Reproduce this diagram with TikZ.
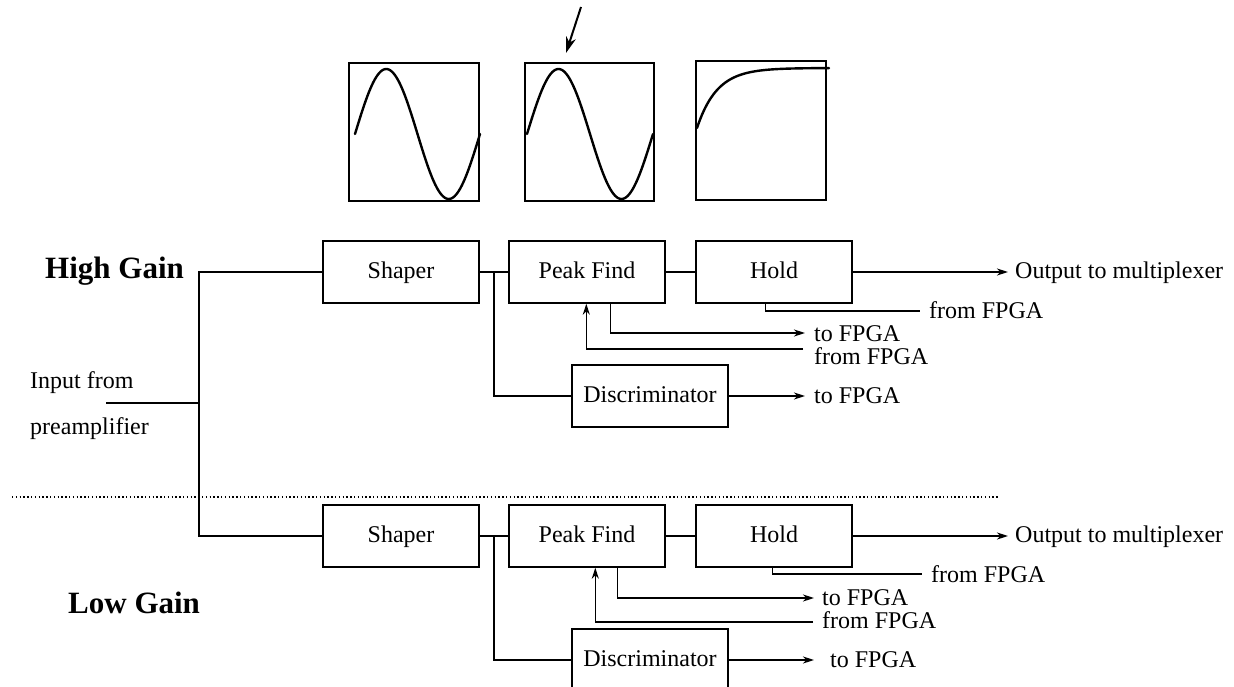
\documentclass[tikz,border=0pt]{standalone}
\usepackage{fontspec}
\setmainfont{Liberation Serif}
\usetikzlibrary{arrows.meta}
\begin{document}
\begin{tikzpicture}[x=1pt,y=-1pt,
  blk/.style={draw, line width=1.4pt, minimum width=156pt, minimum height=62pt, inner sep=0pt,
    font=\fontsize{24}{28}\selectfont, text height=17pt, text depth=5pt},
  lbl/.style={anchor=base west, inner sep=0pt, font=\fontsize{24}{28}\selectfont},
  gain/.style={anchor=base west, inner sep=0pt, font=\fontsize{31}{34}\selectfont\bfseries},
  wire/.style={line width=1.4pt},
  arr/.style={wire, -{Stealth[length=11pt,width=7pt,inset=3.5pt]}},
  wbox/.style={draw, line width=1.3pt, minimum width=130pt, minimum height=138pt, inner sep=0pt},
  wave/.style={line width=2.4pt, line cap=round, line join=round}
]
\fill[white] (0,0) rectangle (1234,687);
\useasboundingbox (0,0) rectangle (1234,687);

% waveform windows
\node[wbox] (w1) at (414,132) {};
\node[wbox, minimum width=129pt] (w2) at (589.5,132) {};
\node[wbox, minimum height=139pt] (w3) at (761,130.5) {};
\draw[wave] plot[domain=0:360, samples=90] ({355+\x/360*125},{134-65*sin(\x)});
\draw[wave] plot[domain=0:360, samples=90] ({527+\x/360*126},{134-65*sin(\x)});
\draw[wave] plot[domain=0:132, samples=80] ({697+\x},{68+60*exp(-\x/20)});
\coordinate (aS) at (581,7);
\coordinate (aE) at (566,53);
\draw[line width=2pt, -{Stealth[length=16pt,width=10pt,inset=5pt]}] (aS) -- (aE);

% labels on the left
\node[gain] (hg) at (45,278) {High Gain};
\node[gain] (lg) at (68,613) {Low Gain};
\node[lbl] (in1) at (30,388) {Input from};
\node[lbl] (in2) at (30,434) {preamplifier};

% high gain chain
\node[blk] (shH) at (401,272) {Shaper};
\node[blk] (pkH) at (587,272) {Peak Find};
\node[blk] (hdH) at (774,272) {Hold};
\node[blk] (dcH) at (650,396) {Discriminator};

% low gain chain
\node[blk] (shL) at (401,536) {Shaper};
\node[blk] (pkL) at (587,536) {Peak Find};
\node[blk] (hdL) at (774,536) {Hold};
\node[blk] (dcL) at (650,660) {Discriminator};

% input split
\coordinate (inS) at (106,403);
\coordinate (jIn) at (199,403);
\coordinate (jH) at (199,272);
\coordinate (jL) at (199,536);
\draw[wire] (inS) -- (jIn);
\draw[wire] (shH.west) -- (jH) -- (jL) -- (shL.west);

% dotted separator
\coordinate (dA) at (12,497);
\coordinate (dB) at (998,497);
\draw[line width=1.3pt, dash pattern=on 1.3pt off 2.5pt] (dA) -- (dB);

% ---- high gain connections
\coordinate (brH) at (494,272);
\draw[wire] (shH.east) -- (pkH.west);
\draw[wire] (brH) |- (dcH.west);
\draw[wire] (pkH.east) -- (hdH.west);
\coordinate (oH) at (1008,272);
\draw[arr] (hdH.east) -- (oH);
\node[lbl] (oHt) at (1015,278) {Output to multiplexer};
\coordinate (hfH) at (920,311);
\draw[wire] ([xshift=70pt]hdH.south west) |- (hfH);
\node[lbl] (hfHt) at (929,318) {from FPGA};
\coordinate (tH) at (805,333);
\draw[arr] ([xshift=102pt]pkH.south west) |- (tH);
\node[lbl] (tHt) at (814,341) {to FPGA};
\coordinate (fH) at (803,349);
\draw[arr] (fH) -| ([xshift=78pt]pkH.south west);
\node[lbl] (fHt) at (814,364) {from FPGA};
\coordinate (dH) at (805,396);
\draw[arr] (dcH.east) -- (dH);
\node[lbl] (dHt) at (814,403) {to FPGA};

% ---- low gain connections
\coordinate (brL) at (494,536);
\draw[wire] (shL.east) -- (pkL.west);
\draw[wire] (brL) |- (dcL.west);
\draw[wire] (pkL.east) -- (hdL.west);
\coordinate (oL) at (1008,536);
\draw[arr] (hdL.east) -- (oL);
\node[lbl] (oLt) at (1015,542) {Output to multiplexer};
\coordinate (hfL) at (922,574);
\draw[wire] ([xshift=77pt]hdL.south west) |- (hfL);
\node[lbl] (hfLt) at (931,582) {from FPGA};
\coordinate (tL) at (814,598);
\draw[arr] ([xshift=109pt]pkL.south west) |- (tL);
\node[lbl] (tLt) at (822,605) {to FPGA};
\coordinate (fL) at (813,622);
\draw[arr] (fL) -| ([xshift=87pt]pkL.south west);
\node[lbl] (fLt) at (822,628) {from FPGA};
\coordinate (dL) at (814,660);
\draw[arr] (dcL.east) -- (dL);
\node[lbl] (dLt) at (830,667) {to FPGA};
\end{tikzpicture}
\end{document}
